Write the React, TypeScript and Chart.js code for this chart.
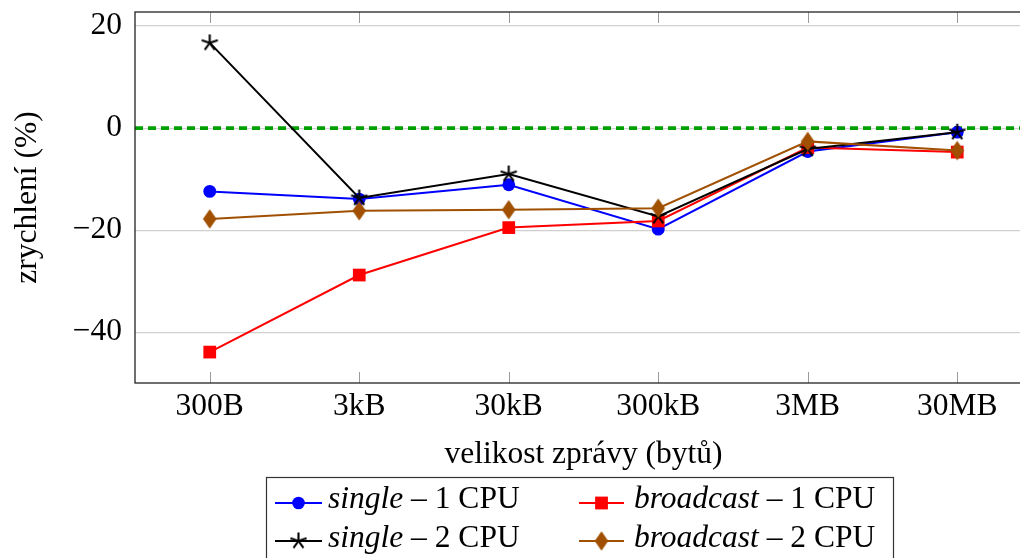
import React, { useEffect, useRef } from 'react';
import { Chart, registerables } from 'chart.js';

Chart.register(...registerables);

// ---- data ----
const categories = ['300B', '3kB', '30kB', '300kB', '3MB', '30MB'];
const single1 = [-12.4, -13.9, -11.1, -19.8, -4.6, -0.8];
const single2 = [16.7, -13.7, -9.0, -17.3, -4.1, -0.8];
const broadcast1 = [-43.9, -28.8, -19.5, -18.2, -3.8, -4.7];
const broadcast2 = [-17.8, -16.2, -16.0, -15.7, -2.6, -4.4];
const yTicks = [-40, -20, 0, 20];
const zeroLine = [0, 0];
const xTitle = 'velikost zprávy (bytů)';
const yTitle = 'zrychlení (%)';
const legendNames = ['single', 'single', 'broadcast', 'broadcast'];
const legendSuffix = [' – 1 CPU', ' – 2 CPU', ' – 1 CPU', ' – 2 CPU'];

const Y_MIN = -49.96;
const Y_MAX = 22.76;
const X_MIN = -0.5;
const X_MAX = categories.length - 0.5;

const FAMILY = '"Liberation Serif", "Times New Roman", serif';
const FONT_SIZE = 31.5;

const BLUE = '#0000ff';
const RED = '#ff0000';
const BLACK = '#000000';
const BROWN = '#a05000';
const GREEN = '#00a000';
const LINE_W = 2;

function makeStar(r: number, color: string, lw: number) {
  const size = Math.ceil(2 * r + lw * 2) + 1;
  const c = document.createElement('canvas');
  c.width = size;
  c.height = size;
  const ctx = c.getContext('2d')!;
  ctx.strokeStyle = color;
  ctx.lineWidth = lw;
  const cx = size / 2;
  const cy = size / 2;
  ctx.beginPath();
  for (let k = 0; k < 5; k++) {
    const a = -Math.PI / 2 + (k * 2 * Math.PI) / 5;
    ctx.moveTo(cx, cy);
    ctx.lineTo(cx + r * Math.cos(a), cy + r * Math.sin(a));
  }
  ctx.stroke();
  return c;
}

function makeDiamond(hw: number, hh: number, color: string) {
  const w = Math.ceil(2 * hw) + 2;
  const h = Math.ceil(2 * hh) + 2;
  const c = document.createElement('canvas');
  c.width = w;
  c.height = h;
  const ctx = c.getContext('2d')!;
  const cx = w / 2;
  const cy = h / 2;
  ctx.fillStyle = color;
  ctx.beginPath();
  ctx.moveTo(cx, cy - hh);
  ctx.lineTo(cx + hw, cy);
  ctx.lineTo(cx, cy + hh);
  ctx.lineTo(cx - hw, cy);
  ctx.closePath();
  ctx.fill();
  return c;
}

export default function App() {
  const ref = useRef<HTMLCanvasElement | null>(null);

  useEffect(() => {
    if (!ref.current) return;
    const star = makeStar(8.5, BLACK, 2.1);
    const diamond = makeDiamond(6.8, 9.8, BROWN);
    const font = { family: FAMILY, size: FONT_SIZE };
    const toXY = (arr: number[]) => arr.map((v, i) => ({ x: i, y: v }));

    const decor = {
      id: 'decor',
      beforeDatasetsDraw(chart: any) {
        const { ctx, chartArea } = chart;
        const xs = chart.scales.x;
        ctx.save();
        ctx.strokeStyle = '#9a9a9a';
        ctx.lineWidth = 1;
        categories.forEach((_, i) => {
          const px = Math.round(xs.getPixelForValue(i)) + 0.5;
          ctx.beginPath();
          ctx.moveTo(px, chartArea.bottom);
          ctx.lineTo(px, chartArea.bottom - 11);
          ctx.moveTo(px, chartArea.top);
          ctx.lineTo(px, chartArea.top + 11);
          ctx.stroke();
        });
        ctx.restore();
      },
      afterDraw(chart: any) {
        const { ctx, chartArea } = chart;
        ctx.save();
        ctx.strokeStyle = '#222';
        ctx.lineWidth = 1.3;
        ctx.strokeRect(chartArea.left, chartArea.top, chartArea.right - chartArea.left, chartArea.bottom - chartArea.top);

        // legend
        ctx.strokeStyle = '#333';
        ctx.lineWidth = 1.2;
        ctx.strokeRect(266.5, 477.5, 627, 110);
        const entries = [
          { color: BLUE, marker: 'circle', col: 0, row: 0 },
          { color: BLACK, marker: 'star', col: 0, row: 1 },
          { color: RED, marker: 'square', col: 1, row: 0 },
          { color: BROWN, marker: 'diamond', col: 1, row: 1 },
        ];
        const colLine = [
          [275, 322],
          [579, 624],
        ];
        const colText = [328, 634];
        const rowCenter = [503, 541];
        const rowBase = [508, 547];
        entries.forEach((e, k) => {
          const [x1, x2] = colLine[e.col];
          const cy = rowCenter[e.row];
          const mx = (x1 + x2) / 2;
          ctx.strokeStyle = e.color;
          ctx.lineWidth = LINE_W;
          ctx.beginPath();
          ctx.moveTo(x1, cy);
          ctx.lineTo(x2, cy);
          ctx.stroke();
          ctx.fillStyle = e.color;
          if (e.marker === 'circle') {
            ctx.beginPath();
            ctx.arc(mx, cy, 6.3, 0, Math.PI * 2);
            ctx.fill();
          } else if (e.marker === 'square') {
            ctx.fillRect(mx - 6.4, cy - 6.4, 12.8, 12.8);
          } else if (e.marker === 'star') {
            ctx.drawImage(star, mx - star.width / 2, cy - star.height / 2);
          } else {
            ctx.drawImage(diamond, mx - diamond.width / 2, cy - diamond.height / 2);
          }
          ctx.fillStyle = '#000';
          ctx.textBaseline = 'alphabetic';
          ctx.textAlign = 'left';
          ctx.font = `italic ${FONT_SIZE}px ${FAMILY}`;
          const tx = colText[e.col];
          ctx.fillText(legendNames[k], tx, rowBase[e.row]);
          const w = ctx.measureText(legendNames[k]).width;
          ctx.font = `${FONT_SIZE}px ${FAMILY}`;
          ctx.fillText(legendSuffix[k], tx + w, rowBase[e.row]);
        });
        ctx.restore();
      },
    };

    const chart = new Chart(ref.current, {
      type: 'line',
      data: {
        datasets: [
          {
            label: 'zero',
            data: [
              { x: X_MIN, y: zeroLine[0] },
              { x: X_MAX, y: zeroLine[1] },
            ],
            borderColor: GREEN,
            borderWidth: 3.8,
            borderDash: [8, 5],
            pointRadius: 0,
            order: 5,
          },
          {
            label: 'single – 1 CPU',
            data: toXY(single1),
            borderColor: BLUE,
            backgroundColor: BLUE,
            borderWidth: LINE_W,
            pointStyle: 'circle',
            pointRadius: 6.4,
            pointBorderWidth: 0,
            order: 4,
          },
          {
            label: 'broadcast – 1 CPU',
            data: toXY(broadcast1),
            borderColor: RED,
            backgroundColor: RED,
            borderWidth: LINE_W,
            pointStyle: 'rect',
            pointRadius: 9,
            pointBorderWidth: 0,
            order: 3,
          },
          {
            label: 'single – 2 CPU',
            data: toXY(single2),
            borderColor: BLACK,
            backgroundColor: BLACK,
            borderWidth: LINE_W,
            pointStyle: star as any,
            pointRadius: 8,
            order: 2,
          },
          {
            label: 'broadcast – 2 CPU',
            data: toXY(broadcast2),
            borderColor: BROWN,
            backgroundColor: BROWN,
            borderWidth: LINE_W,
            pointStyle: diamond as any,
            pointRadius: 9,
            order: 1,
          },
        ] as any,
      },
      options: {
        animation: false,
        responsive: false,
        maintainAspectRatio: false,
        events: [],
        layout: { padding: { left: 0, right: 8, top: 12, bottom: 0 }, autoPadding: false },
        plugins: { legend: { display: false }, tooltip: { enabled: false } },
        scales: {
          x: {
            type: 'linear',
            min: X_MIN,
            max: X_MAX,
            afterBuildTicks: (s: any) => {
              s.ticks = categories.map((_, i) => ({ value: i }));
            },
            ticks: {
              callback: (v: any) => categories[v as number] ?? '',
              font,
              color: '#000',
              padding: 5,
              autoSkip: false,
              maxRotation: 0,
            },
            grid: { display: false, drawTicks: false },
            border: { display: false },
            title: { display: true, text: xTitle, font, color: '#000', padding: { top: 0, bottom: 84 } },
            afterFit: (s: any) => {
              s.height = 175;
              s.paddingLeft = 0;
              s.paddingRight = 0;
            },
          },
          y: {
            type: 'linear',
            min: Y_MIN,
            max: Y_MAX,
            afterBuildTicks: (s: any) => {
              s.ticks = yTicks.map((v) => ({ value: v }));
            },
            ticks: {
              callback: (v: any) => (v < 0 ? '\u2212' + Math.abs(v) : String(v)),
              font,
              color: '#000',
              padding: 13,
            },
            grid: { color: '#d0d0d0', lineWidth: 1.2, drawTicks: false },
            border: { display: false },
            title: { display: true, text: yTitle, font, color: '#000', padding: { top: 9, bottom: 0 } },
            afterFit: (s: any) => {
              s.width = 135;
              s.paddingTop = 0;
              s.paddingBottom = 0;
            },
          },
        },
      } as any,
      plugins: [decor],
    });
    return () => chart.destroy();
  }, []);

  return (
    <div style={{ position: 'fixed', left: 0, top: 0, width: 1020, height: 558, overflow: 'hidden', background: '#fff' }}>
      <canvas ref={ref} width={1040} height={558} style={{ display: 'block' }} />
    </div>
  );
}
